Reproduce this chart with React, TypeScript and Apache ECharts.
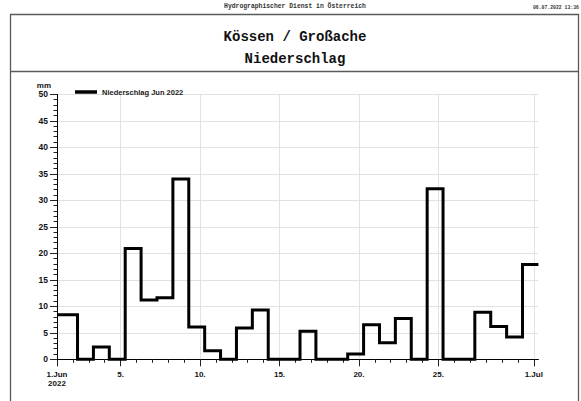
import React, { useEffect, useRef } from "react";
import * as echarts from "echarts";

// Daily precipitation (mm), Kössen / Großache, June 2022 (day 1 .. 30)
const precipitation: number[] = [
  8.4, 0, 2.3, 0, 20.9, 11.2, 11.6, 34.0, 6.1, 1.6,
  0, 5.9, 9.3, 0, 0, 5.3, 0, 0, 1.0, 6.5,
  3.1, 7.7, 0, 32.2, 0, 0, 8.9, 6.2, 4.2, 17.9,
];
// measurement day ends at 07:00 -> offset in days
const dayOffset = 7 / 24;
const axisMaxDays = 30 + dayOffset;

const majorDays: number[] = [0, 4, 9, 14, 19, 24, 30];
const majorLabels: string[] = ["1.Jun\n2022", "5.", "10.", "15.", "20.", "25.", "1.Jul"];
const minorDays: number[] = Array.from({ length: 31 }, (_, i) => i);

const yTicks = { min: 0, max: 50, interval: 5 };

const seriesName = "Niederschlag Jun 2022";
const headerText = "Hydrographischer Dienst in Österreich";
const dateText = "06.07.2022 13:36";
const titleText = "Kössen / Großache";
const subtitleText = "Niederschlag";

export default function App() {
  const ref = useRef<HTMLDivElement>(null);
  useEffect(() => {
    if (!ref.current) return;
    const chart = echarts.init(ref.current, null, { renderer: "svg" });
    const stepData: number[][] = [[0, precipitation[0]]];
    precipitation.forEach((v, i) => stepData.push([i + 1 + dayOffset, v]));

    const frameColor = "#5a5a5a";
    const labelFont = {
      fontFamily: "Liberation Sans, Arial",
      fontSize: 8.5,
      fontWeight: "bold",
      color: "#111",
    };
    const option: any = {
      animation: false,
      backgroundColor: "#fff",
      grid: { left: 57, right: 581 - 538.4, top: 94.3, bottom: 401 - 359.3, containLabel: false },
      legend: {
        show: true,
        left: 75,
        top: 88,
        padding: 0,
        icon: "rect",
        itemWidth: 22,
        itemHeight: 3.5,
        data: [seriesName],
        textStyle: { fontFamily: "Liberation Sans, Arial", fontSize: 7.5, fontWeight: "bold", color: "#222" },
      },
      xAxis: [
        {
          type: "value",
          min: 0,
          max: axisMaxDays,
          position: "bottom",
          axisLine: { show: true, onZero: false, lineStyle: { color: "#000", width: 1 } },
          axisTick: { show: true, customValues: minorDays, length: 3.5, lineStyle: { color: "#222" } },
          axisLabel: { show: false },
          splitLine: { show: false },
        },
        {
          type: "value",
          min: 0,
          max: axisMaxDays,
          position: "bottom",
          axisLine: { show: false, onZero: false },
          axisTick: { show: true, customValues: majorDays, length: 7, lineStyle: { color: "#222" } },
          axisLabel: {
            show: true,
            customValues: majorDays,
            margin: 11,
            formatter: (v: number) => {
              const idx = majorDays.findIndex((d) => Math.abs(d - v) < 1e-6);
              return idx >= 0 ? majorLabels[idx] : "";
            },
            ...labelFont,
            fontSize: 8,
            lineHeight: 9,
          },
          splitLine: { show: true, lineStyle: { color: "#e2e2e2", width: 1 } },
        },
      ],
      yAxis: {
        type: "value",
        min: yTicks.min,
        max: yTicks.max,
        interval: yTicks.interval,
        name: "mm",
        nameLocation: "end",
        nameGap: 2,
        nameTextStyle: {
          ...labelFont,
          fontSize: 8,
          align: "right",
          padding: [0, 6, 0, 0],
        },
        axisLine: { show: true, lineStyle: { color: "#000", width: 1 } },
        axisTick: { show: true, length: 7, lineStyle: { color: "#222" } },
        minorTick: { show: true, splitNumber: 5, length: 3.5, lineStyle: { color: "#222" } },
        axisLabel: { margin: 9, ...labelFont },
        splitLine: { show: true, lineStyle: { color: "#e2e2e2", width: 1 } },
      },
      series: [
        {
          name: seriesName,
          type: "line",
          xAxisIndex: 0,
          step: "start",
          data: stepData,
          showSymbol: false,
          symbol: "none",
          clip: false,
          color: "#000",
          itemStyle: { color: "#000" },
          lineStyle: { color: "#000", width: 3, join: "miter", cap: "butt" },
        },
      ],
      graphic: [
        {
          type: "polyline",
          shape: { points: [[10.5, 402], [10.5, 14.5], [578.5, 14.5], [578.5, 402]] },
          style: { stroke: frameColor, lineWidth: 1.3, fill: null },
          silent: true,
        },
        {
          type: "line",
          shape: { x1: 10.5, y1: 71.5, x2: 578.5, y2: 71.5 },
          style: { stroke: frameColor, lineWidth: 1.3 },
          silent: true,
        },
        {
          type: "text",
          x: 295,
          y: 6,
          style: {
            text: headerText,
            fontFamily: "Liberation Mono, Courier New, monospace",
            fontSize: 6.4,
            fontWeight: "bold",
            fill: "#333",
            align: "center",
            verticalAlign: "middle",
          },
        },
        {
          type: "text",
          x: 579,
          y: 7,
          style: {
            text: dateText,
            fontFamily: "Liberation Mono, Courier New, monospace",
            fontSize: 4.8,
            fontWeight: "bold",
            fill: "#333",
            align: "right",
            verticalAlign: "middle",
          },
        },
        {
          type: "text",
          x: 295,
          y: 37,
          style: {
            text: titleText,
            fontFamily: "Liberation Mono, Courier New, monospace",
            fontSize: 14,
            fontWeight: "bold",
            fill: "#111",
            align: "center",
            verticalAlign: "middle",
          },
        },
        {
          type: "text",
          x: 295,
          y: 59,
          style: {
            text: subtitleText,
            fontFamily: "Liberation Mono, Courier New, monospace",
            fontSize: 14,
            fontWeight: "bold",
            fill: "#111",
            align: "center",
            verticalAlign: "middle",
          },
        },
      ],
    };
    chart.setOption(option);
    return () => chart.dispose();
  }, []);
  return (
    <div
      ref={ref}
      style={{ position: "absolute", left: 0, top: 0, width: 581, height: 401, background: "#fff" }}
    />
  );
}
